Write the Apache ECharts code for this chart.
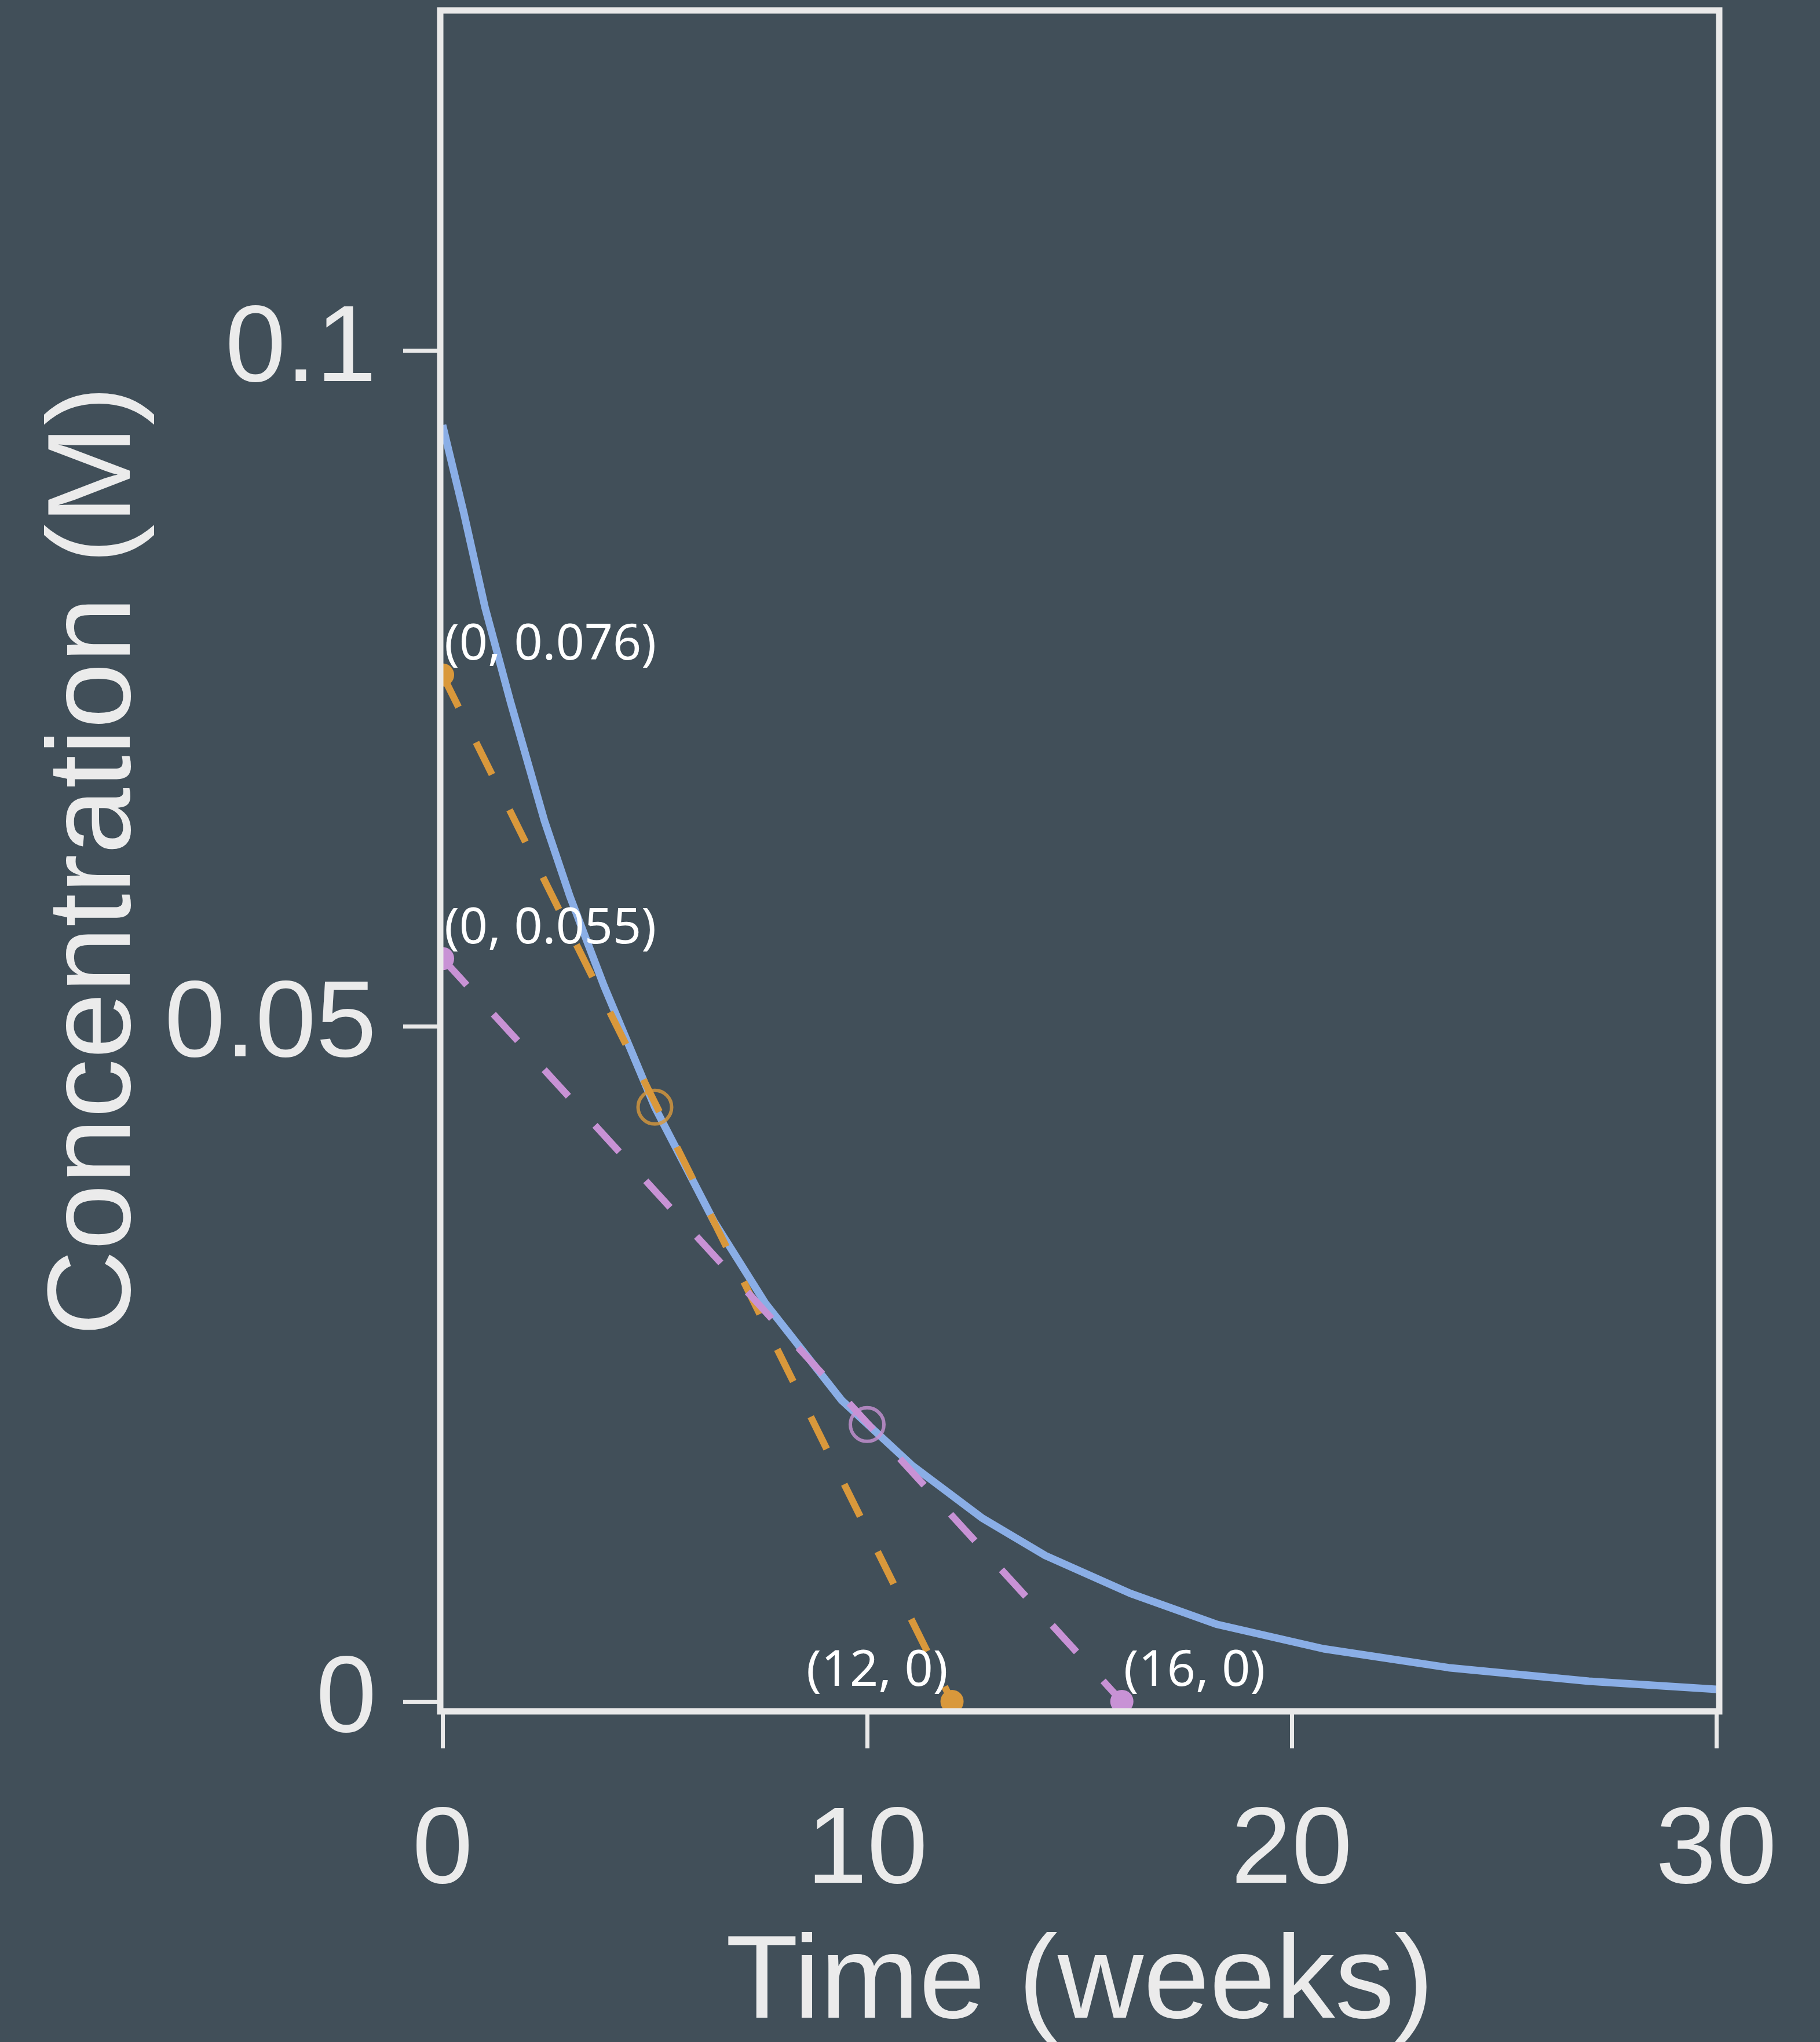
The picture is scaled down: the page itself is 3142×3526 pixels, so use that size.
<!DOCTYPE html>
<html>
<head>
<meta charset="utf-8">
<script src="https://cdn.jsdelivr.net/npm/echarts@6/dist/echarts.min.js"></script>
<style>
  html, body { margin: 0; padding: 0; background: #414f59; }
  #chart { width: 3142px; height: 3526px; }
</style>
</head>
<body>
<div id="chart"></div>
<script>
// concentration decay curve
const timeWeeks = [0, 0.5, 1.0, 1.6, 2.4, 3.0, 3.8, 5.0, 6.4, 7.6, 9.4, 11.05, 12.7, 14.2, 16.2, 18.25, 20.75, 23.7, 27.0, 30.0];
const concentration = [0.0945, 0.0880, 0.0810, 0.0740, 0.0652, 0.0596, 0.0530, 0.0440, 0.0355, 0.0295, 0.0223, 0.0175, 0.0136, 0.0108, 0.0080, 0.0057, 0.0039, 0.0025, 0.0015, 0.0009];

// tangent lines (intercepts)
const tangentAt5 = [[0, 0.076], [12, 0]];
const tangentAt10 = [[0, 0.055], [16, 0]];
// points where the tangents touch the curve
const touchAt5 = [[5, 0.044]];
const touchAt10 = [[10, 0.0205]];

const xTicks = [0, 10, 20, 30];
const yTicks = [0, 0.05, 0.1];

const BG = '#414f59';
const FG = '#ebebeb';
const BLUE = '#8aaee6';
const ORANGE = '#d9983b';
const PURPLE = '#c892d5';

const chart = echarts.init(document.getElementById('chart'));

const pointLabel = (side) => ({
    show: true,
    position: 'top',
    align: side === 'left' ? 'right' : 'left',
    verticalAlign: 'bottom',
    offset: side === 'left' ? [-7, 17] : [3, 17],
    color: '#ffffff',
    fontFamily: 'Noto Sans',
    fontSize: 86,
    formatter: (p) => '(' + p.value[0] + ', ' + p.value[1] + ')',
});

// dashed tangent, its end dots are drawn by the clipped custom series below
const tangentSeries = (pts, color, sides) => ({
    type: 'line',
    data: pts.map((v, i) => ({ value: v, label: pointLabel(sides[i]) })),
    symbol: 'circle',
    symbolSize: 40,
    itemStyle: { color: 'rgba(0,0,0,0)' },
    lineStyle: { color: color, width: 12, type: [62, 68] },
    z: 4,
});

const dotSeries = (pts, color) => ({
    type: 'custom',
    data: pts,
    clip: true,
    encode: { x: 0, y: 1 },
    renderItem: (params, api) => {
        const p = api.coord([api.value(0), api.value(1)]);
        return { type: 'circle', shape: { cx: p[0], cy: p[1], r: 20 }, style: { fill: color } };
    },
    z: 4,
});

const ringSeries = (pts, color) => ({
    type: 'scatter',
    data: pts,
    symbol: 'circle',
    symbolSize: 58,
    itemStyle: { color: 'transparent', borderColor: color, borderWidth: 6 },
    z: 5,
});

const axisFont = { color: FG, fontFamily: 'Liberation Sans', fontSize: 188 };

const option = {
    backgroundColor: BG,
    animation: false,
    grid: {
        left: 760,
        top: 18,
        right: 174,
        bottom: 571,
        show: true,
        borderColor: '#e9e9e9',
        borderWidth: 11,
        outerBoundsMode: 'none',
        z: 10,
    },
    xAxis: {
        type: 'value',
        min: -0.055,
        max: 30.07,
        name: 'Time (weeks)',
        nameLocation: 'middle',
        nameGap: 370,
        nameTextStyle: { color: FG, fontFamily: 'Liberation Sans', fontSize: 205 },
        axisLine: { show: false, onZero: false },
        splitLine: { show: false },
        axisTick: {
            show: true,
            length: 64,
            customValues: xTicks,
            lineStyle: { color: '#e9e9e9', width: 7 },
        },
        axisLabel: Object.assign({ margin: 150, customValues: xTicks }, axisFont),
    },
    yAxis: {
        type: 'value',
        min: -0.00073,
        max: 0.1252,
        name: 'Concentration (M)',
        nameLocation: 'middle',
        nameGap: 490,
        nameTextStyle: { color: FG, fontFamily: 'Liberation Sans', fontSize: 205 },
        axisLine: { show: false, onZero: false },
        splitLine: { show: false },
        axisTick: {
            show: true,
            length: 64,
            customValues: yTicks,
            lineStyle: { color: '#e9e9e9', width: 7 },
        },
        axisLabel: Object.assign({ margin: 110, customValues: yTicks }, axisFont),
    },
    series: [
        {
            type: 'line',
            data: timeWeeks.map((t, i) => [t, concentration[i]]),
            showSymbol: false,
            lineStyle: { color: BLUE, width: 13 },
            z: 3,
        },
        tangentSeries(tangentAt5, ORANGE, ['right', 'left']),
        tangentSeries(tangentAt10, PURPLE, ['right', 'right']),
        dotSeries(tangentAt5, ORANGE),
        dotSeries(tangentAt10, PURPLE),
        ringSeries(touchAt5, ORANGE),
        ringSeries(touchAt10, PURPLE),
    ],
};

chart.setOption(option);
</script>
</body>
</html>
